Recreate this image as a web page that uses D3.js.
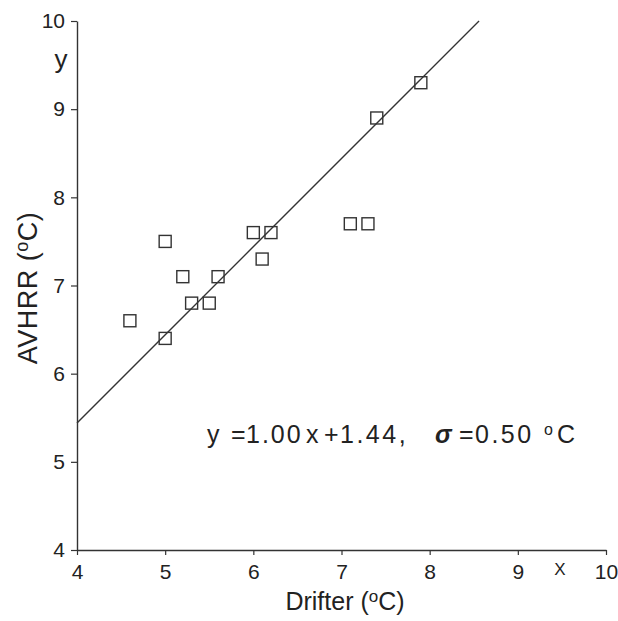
<!DOCTYPE html>
<html>
<head>
<meta charset="utf-8">
<script src="https://cdn.jsdelivr.net/npm/d3@7"></script>
<style>
  body { margin: 0; background: #fff; }
  svg text { font-family: "Liberation Sans", Arial, sans-serif; fill: #222; }
</style>
</head>
<body>
<div id="chart"></div>
<script>
// drifter vs AVHRR temperatures (deg C)
const drifter = [4.6, 5.0, 5.0, 5.2, 5.3, 5.5, 5.6, 6.0, 6.1, 6.2, 7.1, 7.3, 7.4, 7.9];
const avhrr   = [6.6, 7.5, 6.4, 7.1, 6.8, 6.8, 7.1, 7.6, 7.3, 7.6, 7.7, 7.7, 8.9, 9.3];
const fitSlope = 1.00;
const fitIntercept = 1.44;
const sigma = 0.50;
const xTicks = [4, 5, 6, 7, 8, 9, 10];
const yTicks = [4, 5, 6, 7, 8, 9, 10];

const width = 618, height = 621;

const svg = d3.select("#chart").append("svg")
  .attr("width", width)
  .attr("height", height);

const x = d3.scaleLinear().domain([4, 10]).range([77, 606]);
const y = d3.scaleLinear().domain([4, 10]).range([550, 21]);

// axes
const xAxis = svg.append("g")
  .attr("transform", `translate(0,${y(4)})`)
  .call(d3.axisBottom(x).tickValues(xTicks).tickFormat(d3.format("d"))
    .tickSize(5).tickPadding(9).tickSizeOuter(0));
const yAxis = svg.append("g")
  .attr("transform", `translate(${x(4)},0)`)
  .call(d3.axisLeft(y).tickValues(yTicks).tickFormat(d3.format("d"))
    .tickSize(6).tickPadding(6).tickSizeOuter(0));

[xAxis, yAxis].forEach(a => {
  a.attr("font-size", 21).attr("font-family", "'Liberation Sans', Arial, sans-serif");
  a.select(".domain").attr("stroke", "#333").attr("stroke-width", 1.4);
  a.selectAll(".tick line").attr("stroke", "#333").attr("stroke-width", 1.2);
  a.selectAll(".tick text").style("font-size", "21px").attr("fill", "#222");
});

// regression line, clipped at the top of the plot box
const x0 = 4;
const x1 = (10 - fitIntercept) / fitSlope;
svg.append("line")
  .attr("x1", x(x0)).attr("y1", y(fitSlope * x0 + fitIntercept))
  .attr("x2", x(x1)).attr("y2", y(fitSlope * x1 + fitIntercept))
  .attr("stroke", "#333")
  .attr("stroke-width", 1.4);

// squares
const sq = 12;
svg.selectAll("rect.pt")
  .data(d3.zip(drifter, avhrr))
  .enter().append("rect")
  .attr("class", "pt")
  .attr("x", d => x(d[0]) - sq / 2)
  .attr("y", d => y(d[1]) - sq / 2)
  .attr("width", sq)
  .attr("height", sq)
  .attr("fill", "none")
  .attr("stroke", "#333")
  .attr("stroke-width", 1.4);

// axis variable letters
svg.append("text").attr("x", 61).attr("y", 68)
  .attr("text-anchor", "middle").style("font-size", "26px").text("y");
svg.append("text").attr("x", 560).attr("y", 575)
  .attr("text-anchor", "middle").style("font-size", "17px").text("X");

// axis titles
svg.append("text")
  .attr("transform", "translate(37,288) rotate(-90)")
  .attr("text-anchor", "middle")
  .style("font-size", "27px")
  .style("letter-spacing", "0.5px")
  .html('AVHRR (<tspan dy="-9" font-size="18px">o</tspan><tspan dy="9">C)</tspan>');

svg.append("text")
  .attr("x", 345).attr("y", 610)
  .attr("text-anchor", "middle")
  .style("font-size", "25px")
  .html('Drifter (<tspan dy="-8" font-size="17px">o</tspan><tspan dy="8">C)</tspan>');

// fit equation, tokens placed to match the original spacing
const eq = svg.append("text")
  .attr("y", 443)
  .style("font-size", "25px");
const tok = (px, s, ls = 0) => eq.append("tspan").attr("x", px)
  .style("letter-spacing", ls + "px").text(s);
tok(207, "y");
tok(231, "=");
tok(246, fitSlope.toFixed(2), 2);
tok(306, "x");
tok(324, "+");
tok(340, fitIntercept.toFixed(2) + ",", 2.5);
tok(435, "σ").attr("font-style", "italic").attr("font-weight", "bold");
tok(459, "=");
tok(475, sigma.toFixed(2), 2.5);
tok(544, "o").attr("font-size", "16px").attr("dy", -8);
tok(557, "C").attr("dy", 8);
</script>
</body>
</html>
